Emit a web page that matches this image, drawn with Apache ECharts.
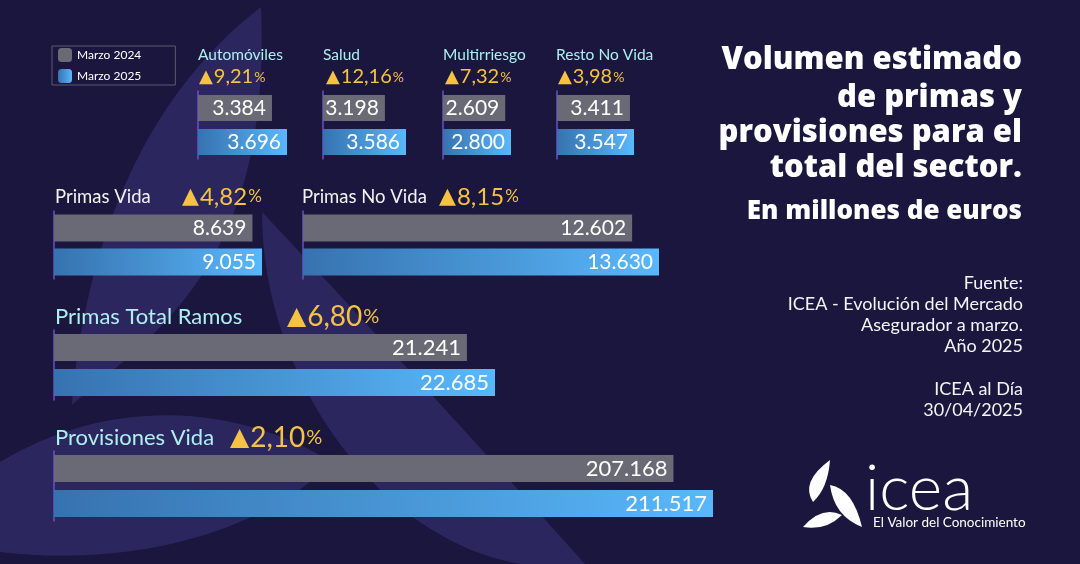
<!DOCTYPE html>
<html><head><meta charset="utf-8">
<script src="https://cdn.jsdelivr.net/npm/echarts@6/dist/echarts.min.js"></script>
<style>html,body{margin:0;padding:0;background:#1a163d}#c{width:1080px;height:564px}</style>
</head><body><div id="c"></div>
<script>
// ---- data ----
const seriesNames = ['Marzo 2024', 'Marzo 2025'];
const sectionNames = ['Automóviles', 'Salud', 'Multirriesgo', 'Resto No Vida', 'Primas Vida', 'Primas No Vida', 'Primas Total Ramos', 'Provisiones Vida'];
const values2024 = [3384, 3198, 2609, 3411, 8639, 12602, 21241, 207168];
const values2025 = [3696, 3586, 2800, 3547, 9055, 13630, 22685, 211517];
const changes = ['9,21', '12,16', '7,32', '3,98', '4,82', '8,15', '6,80', '2,10'];
const titleLines = ['Volumen estimado', 'de primas y', 'provisiones para el', 'total del sector.'];
const subtitle = 'En millones de euros';
const sourceLines = ['Fuente:', 'ICEA - Evolución del Mercado', 'Asegurador a marzo.', 'Año 2025', '', 'ICEA al Día', '30/04/2025'];

// ---- layout (positions / styles only) ----
const CYAN = '#aeeff0', WHITE = '#f2f2f2', YELLOW = '#f5c244';
const layout = [
  {g: {left: 198, top: 91, width: 89, height: 68}, min: 1850, bw: 26, fs: 21, h: {x: 198, y: 55, s: 15.5, c: CYAN}, p: {x: 199, y: 77, s: 20}},
  {g: {left: 323, top: 91, width: 83, height: 68}, min: 2059, bw: 26, fs: 21, h: {x: 323, y: 55, s: 15.5, c: CYAN}, p: {x: 326, y: 77, s: 20}},
  {g: {left: 443, top: 91, width: 68, height: 68}, min: 542, bw: 26, fs: 21, h: {x: 443, y: 55, s: 15.5, c: CYAN}, p: {x: 445, y: 77, s: 20}},
  {g: {left: 557, top: 91, width: 77, height: 68}, min: 942, bw: 26, fs: 21, h: {x: 556, y: 55, s: 15.5, c: CYAN}, p: {x: 558, y: 77, s: 20}},
  {g: {left: 54, top: 211, width: 208, height: 68}, min: 0, bw: 27, fs: 21, h: {x: 55, y: 197, s: 18.5, c: WHITE}, p: {x: 182, y: 197, s: 24}},
  {g: {left: 303, top: 211, width: 356, height: 68}, min: 0, bw: 27, fs: 21, h: {x: 302, y: 197, s: 18.5, c: WHITE}, p: {x: 439, y: 197, s: 24}},
  {g: {left: 54, top: 330, width: 441, height: 70}, min: 0, bw: 27, fs: 22, h: {x: 55, y: 317, s: 22, c: CYAN}, p: {x: 287, y: 317, s: 28}},
  {g: {left: 54, top: 451, width: 659, height: 70}, min: 139000, bw: 27, fs: 22, h: {x: 55, y: 438, s: 22, c: CYAN}, p: {x: 230, y: 438, s: 28}}
];

const FONT = 'Lato, "Noto Sans", sans-serif';
const TFONT = '"Open Sans", Lato, sans-serif';
const GRAY = '#6a6976';
const BLUE = {type: 'linear', x: 0, y: 0, x2: 1, y2: 0, colorStops: [
  {offset: 0, color: '#3772b0'}, {offset: 0.6, color: '#4b9bdb'}, {offset: 1, color: '#58b8fc'}
]};
const fmt = v => String(v).replace(/\B(?=(\d{3})+(?!\d))/g, '.');

const grids = [], xAxes = [], yAxes = [], series = [];
layout.forEach((L, i) => {
  grids.push(Object.assign({containLabel: false}, L.g));
  xAxes.push({type: 'value', gridIndex: i, min: L.min, max: values2025[i], show: false});
  yAxes.push({type: 'category', gridIndex: i, data: ['2024', '2025'], inverse: true,
    axisLine: {show: true, lineStyle: {color: '#6b4fc9', width: 1.5}}, axisTick: {show: false}, axisLabel: {show: false}});
  const label = {show: true, position: 'insideRight', distance: 6, color: '#ffffff', fontSize: L.fs, fontFamily: FONT,
    formatter: p => fmt(p.value)};
  series.push({name: seriesNames[0], type: 'bar', xAxisIndex: i, yAxisIndex: i, barWidth: L.bw, barGap: '-100%',
    itemStyle: {color: GRAY}, label, data: [values2024[i], '-'], z: 3});
  series.push({name: seriesNames[1], type: 'bar', xAxisIndex: i, yAxisIndex: i, barWidth: L.bw, barGap: '-100%',
    itemStyle: {color: BLUE}, label, data: ['-', values2025[i]], z: 3});
});

// background watermark + logo shapes via custom series (path elements)
const WM = '#2b275e';
const wmPaths = [
  'M261,7 C140,100 85,250 72,405 C160,330 272,260 261,7 Z',
  'M262,212 Q420,380 585,564 L520,564 C380,540 262,380 262,212 Z',
  'M333,463 C250,410 120,390 0,462 L0,552 C120,566 250,540 333,463 Z'
];
const logoPaths = [
  'M830,460 Q800,482 813,502 Q828,488 830,460 Z',
  'M830,485 Q853,489 862,527 Q834,516 830,485 Z',
  'M842,515 Q822,505 803,527 Q826,531 842,515 Z'
];
series.push({type: 'custom', coordinateSystem: 'none', z: 0, silent: true, data: [0],
  renderItem: () => ({type: 'group', children: wmPaths.map(d => ({type: 'path', shape: {pathData: d}, style: {fill: WM}}))})});
series.push({type: 'custom', coordinateSystem: 'none', z: 10, silent: true, data: [0],
  renderItem: () => ({type: 'group', children: logoPaths.map(d => ({type: 'path', shape: {pathData: d}, style: {fill: '#ffffff'}}))})});

const elements = [
  {type: 'text', z: 10, style: {text: 'icea', x: 865, y: 489, verticalAlign: 'middle', fill: '#ffffff', font: '300 64px ' + FONT}},
  {type: 'text', z: 10, style: {text: 'El Valor del Conocimiento', x: 873, y: 523, verticalAlign: 'middle', fill: '#ffffff', font: '13.5px ' + FONT}}
];

layout.forEach((L, i) => {
  elements.push({type: 'text', z: 10, style: {text: sectionNames[i], x: L.h.x, y: L.h.y, verticalAlign: 'middle',
    fill: L.h.c, font: L.h.s + 'px ' + FONT}});
  elements.push({type: 'text', z: 10, style: {text: '{t|▲}{n|' + changes[i] + '}{p|%}', x: L.p.x, y: L.p.y, verticalAlign: 'middle',
    rich: {
      t: {fill: YELLOW, fontSize: Math.round(L.p.s * 0.9), fontFamily: '"DejaVu Sans"', padding: [0, 1, 0, 0]},
      n: {fill: YELLOW, fontSize: L.p.s, fontFamily: FONT},
      p: {fill: YELLOW, fontSize: Math.round(L.p.s * 0.72), fontFamily: FONT, padding: [0, 0, 0, 1]}
    }}});
});

const titleY = [60, 98, 133, 168];
titleLines.forEach((t, k) => elements.push({type: 'text', z: 10, style: {text: t, x: 1022, y: titleY[k], align: 'right',
  verticalAlign: 'middle', fill: '#ffffff', font: '800 31px ' + TFONT}}));
elements.push({type: 'text', z: 10, style: {text: subtitle, x: 1022, y: 212, align: 'right', verticalAlign: 'middle',
  fill: '#ffffff', font: '800 26px ' + TFONT}});
const srcY = [283, 304, 325, 346, 0, 389, 410];
sourceLines.forEach((t, k) => { if (t) elements.push({type: 'text', z: 10, style: {text: t, x: 1023, y: srcY[k], align: 'right',
  verticalAlign: 'middle', fill: '#f4f4f4', font: '18px ' + FONT}}); });

const chart = echarts.init(document.getElementById('c'));
chart.setOption({
  backgroundColor: '#1a163d',
  animation: false,
  legend: {data: seriesNames, left: 52, top: 46, orient: 'vertical', itemWidth: 14, itemHeight: 14, itemGap: 7,
    padding: [2, 34, 2, 6], borderColor: '#5c5a72', borderWidth: 1, selectedMode: false,
    textStyle: {color: '#ffffff', fontSize: 12, fontFamily: FONT}},
  grid: grids, xAxis: xAxes, yAxis: yAxes, series,
  graphic: {elements}
});
</script></body></html>
